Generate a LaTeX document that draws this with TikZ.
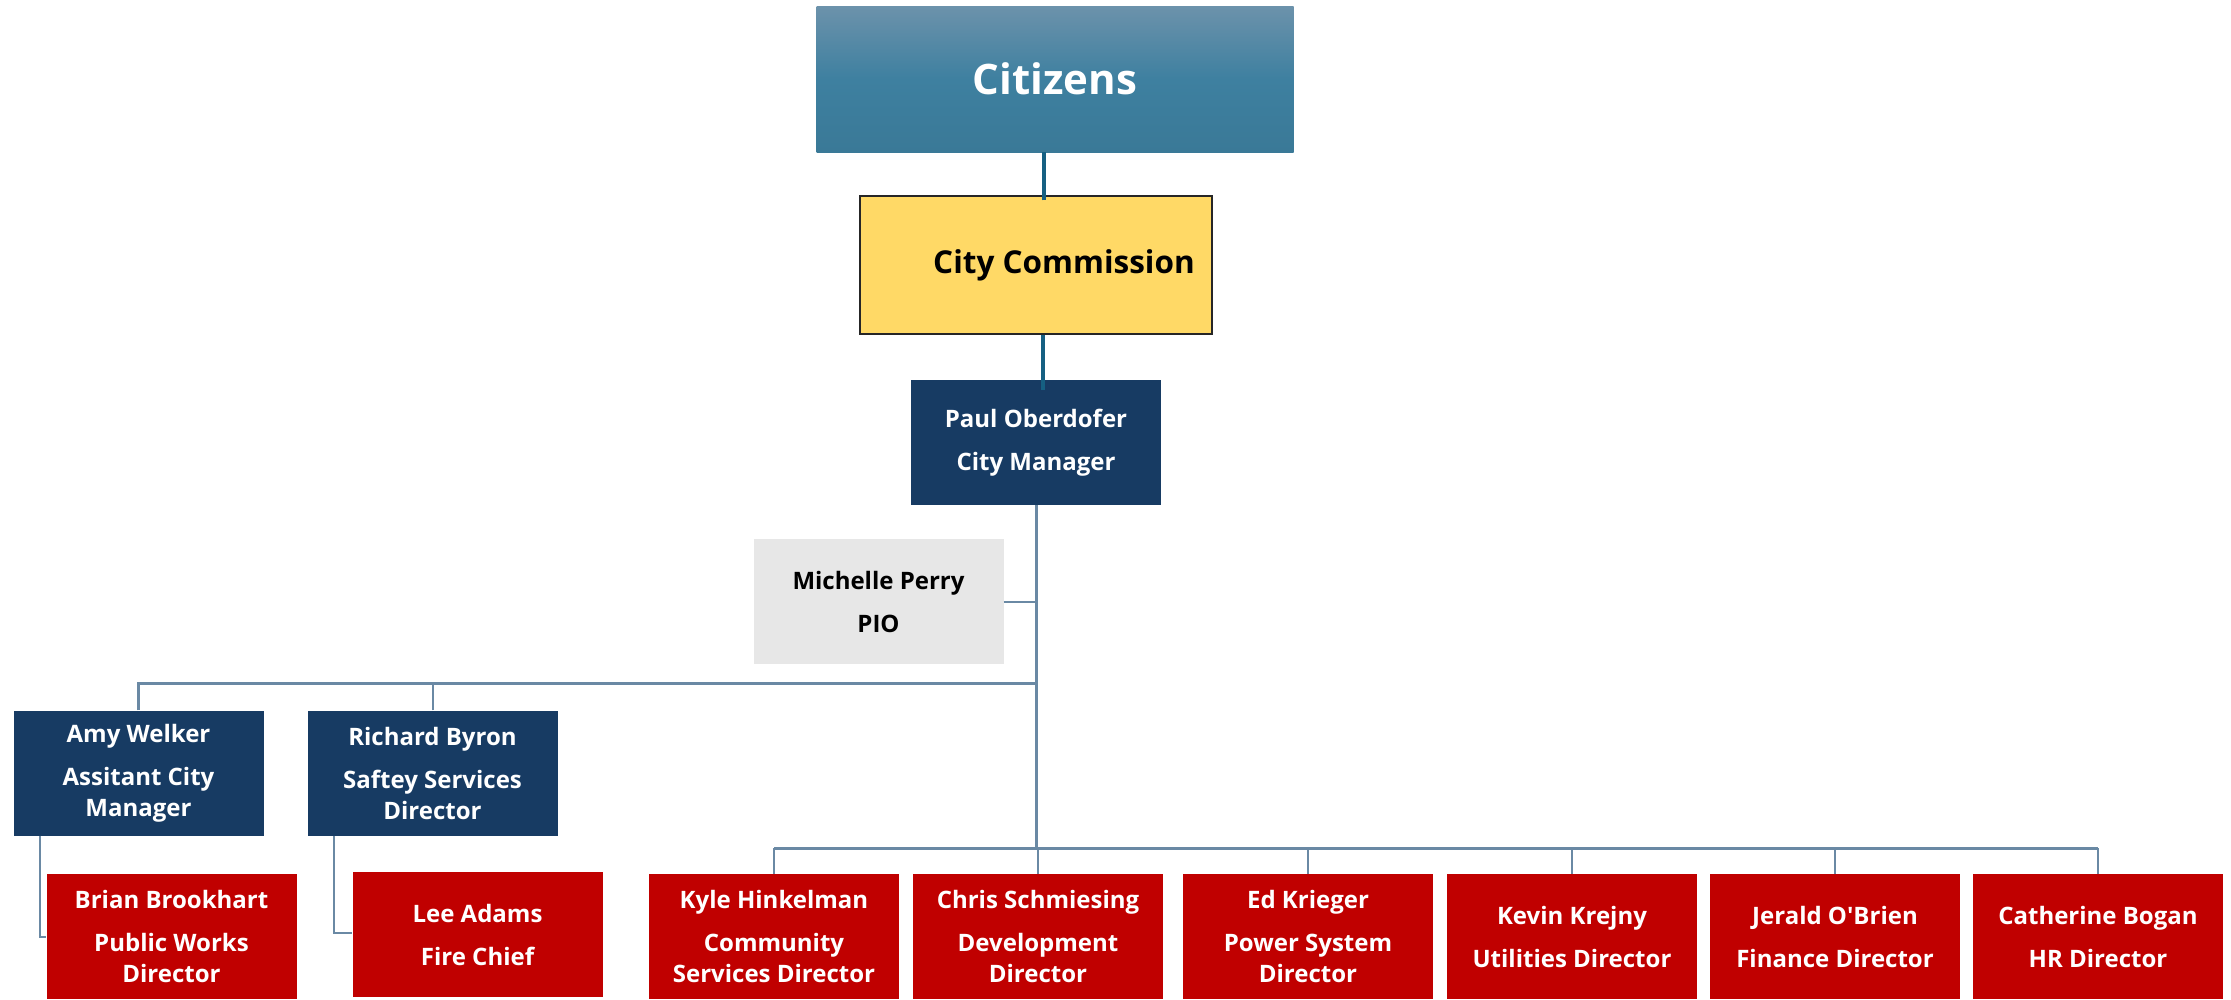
\documentclass[tikz,border=0pt]{standalone}
\usepackage{fontspec}
\setmainfont{Open Sans}
\usetikzlibrary{positioning}

\definecolor{citytop}{RGB}{108,146,171}
\definecolor{citymid}{RGB}{62,128,160}
\definecolor{citybot}{RGB}{58,121,151}
\definecolor{commfill}{RGB}{255,217,102}
\definecolor{navy}{RGB}{23,59,99}
\definecolor{deptred}{RGB}{192,0,0}
\definecolor{piogray}{RGB}{231,231,231}
\definecolor{tealline}{RGB}{22,96,130}
\definecolor{linkblue}{RGB}{106,137,164}

\begin{document}
\begin{tikzpicture}[
  x=1pt,y=-1pt,
  staff/.style={rectangle,minimum width=250pt,minimum height=125pt,align=center,inner sep=2pt,font=\fontsize{24}{31}\selectfont\bfseries},
  lead/.style={staff,fill=navy,text=white},
  dept/.style={staff,fill=deptred,text=white},
  aide/.style={staff,fill=piogray,text=black},
  topline/.style={draw=tealline,line width=4pt},
  trunk/.style={draw=linkblue,line width=3pt},
  branch/.style={draw=linkblue,line width=2pt},
]
  \useasboundingbox (0,0) rectangle (2231,999);

  % Top layer
  \node[rectangle,minimum width=477pt,minimum height=146pt,top color=citytop,bottom color=citybot,middle color=citymid,text=white,font=\fontsize{42}{50}\selectfont\bfseries] (cit) at (1055,79) {Citizens};
  \node[rectangle,draw=black!85,line width=1.5pt,fill=commfill,minimum width=352pt,minimum height=138pt,font=\fontsize{31.5}{38}\selectfont\bfseries] (com) at (1036,265) {\hspace*{56pt}City Commission};
  \node[lead] (pm) at (1036,442.5) {Paul Oberdofer\\[12pt]City Manager};

  % Staff office
  \node[aide] (pio) at (878.5,601.5) {Michelle Perry\\[12pt]PIO};

  % Deputy layer
  \node[lead] (aw) at (138.5,773) {Amy Welker\\[12pt]Assitant City\\Manager};
  \node[lead] (rb) at (432.5,773) {Richard Byron\\[12pt]Saftey Services\\Director};
  \node[dept] (bb) at (171.5,936.5) {Brian Brookhart\\[12pt]Public Works\\Director};
  \node[dept] (la) at (477.5,934.5) {Lee Adams\\[12pt]Fire Chief};

  % Department directors
  \node[dept] (kh) at (774,936.5) {Kyle Hinkelman\\[12pt]Community\\Services Director};
  \node[dept] (cs) at (1038,936.5) {Chris Schmiesing\\[12pt]Development\\Director};
  \node[dept] (ek) at (1308,936.5) {Ed Krieger\\[12pt]Power System\\Director};
  \node[dept] (kk) at (1572,936.5) {Kevin Krejny\\[12pt]Utilities Director};
  \node[dept] (jo) at (1835,936.5) {Jerald O\textquotesingle Brien\\[12pt]Finance Director};
  \node[dept] (cb) at (2098,936.5) {Catherine Bogan\\[12pt]HR Director};

  % Junctions on the trunk
  \coordinate (mid) at (1036,683);
  \coordinate (hub) at (1036,848);

  % Edges: top chain
  \draw[topline] ([xshift=8pt,yshift=-5pt]com.north) -- ([xshift=8pt]com.north |- cit.south);
  \draw[topline] ([xshift=7pt,yshift=-10pt]pm.north) -- ([xshift=7pt]pm.north |- com.south);

  % Edges: trunk and staff office
  \draw[trunk] (pm.south) -- (hub);
  \draw[branch] (pio.east) -- (pio.east -| pm.south);

  % Edges: deputies
  \draw[trunk] (aw.north) |- (mid);
  \draw[branch] (rb.north) -- (rb.north |- mid);
  \draw[branch] ([xshift=27pt]aw.south west) |- (bb.west);
  \draw[branch] ([xshift=27pt]rb.south west) |- ([yshift=2pt]la.west);

  % Edges: directors
  \draw[trunk] (kh.north |- hub) -- (cb.north |- hub);
  \draw[branch] (kh.north) -- (kh.north |- hub);
  \draw[branch] (cs.north) -- (cs.north |- hub);
  \draw[branch] (ek.north) -- (ek.north |- hub);
  \draw[branch] (kk.north) -- (kk.north |- hub);
  \draw[branch] (jo.north) -- (jo.north |- hub);
  \draw[branch] (cb.north) -- (cb.north |- hub);
\end{tikzpicture}
\end{document}
